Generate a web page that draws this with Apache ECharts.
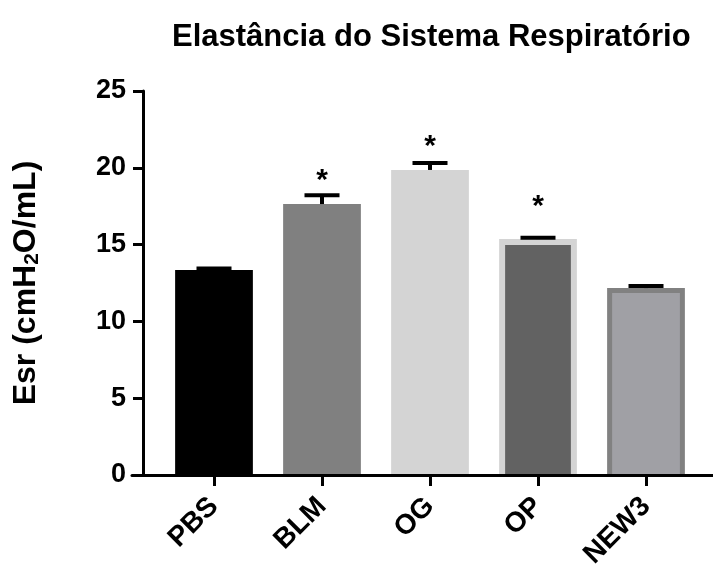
<!DOCTYPE html>
<html>
<head>
<meta charset="utf-8">
<script src="https://cdn.jsdelivr.net/npm/echarts@6/dist/echarts.min.js"></script>
<style>
  html, body { margin: 0; padding: 0; background: #ffffff; }
  #chart { width: 713px; height: 566px; }
</style>
</head>
<body>
<div id="chart"></div>
<script>
// Respiratory system elastance per group (mean ± SEM)
const groups = ['PBS', 'BLM', 'OG', 'OP', 'NEW3'];
const meanEsr = [13.35, 17.64, 19.86, 15.36, 12.17];
const semEsr = [0.10, 0.57, 0.45, 0.08, 0.13];
// groups flagged as significantly different, and where their asterisk sits (Esr units)
const significant = [false, true, true, true, false];
const starLevel = [null, 19.15, 21.35, 17.45, null];
// value axis ticks
const yTicks = [0, 5, 10, 15, 20, 25];

const FONT = 'Liberation Sans, Arial, Helvetica, sans-serif';

// bar appearance per group: outer colour, inner fill and inset width of the frame
const barLook = [
  { edge: '#000000', fill: '#000000', inset: 0 },
  { edge: '#808080', fill: '#808080', inset: 0 },
  { edge: '#d4d4d4', fill: '#d4d4d4', inset: 0 },
  { edge: '#d4d4d4', fill: '#626262', inset: 6 },
  { edge: '#818181', fill: '#a0a0a5', inset: 5 }
];

function renderBar(params, api) {
  const i = api.value(0);
  const v = api.value(1);
  const top = api.coord([i, v]);
  const base = api.coord([i, 0]);
  const w = api.size([1, 0])[0] * 0.72;
  const x0 = top[0] - w / 2;
  const h = base[1] - top[1];
  const look = barLook[params.dataIndex];
  const children = [{
    type: 'rect',
    shape: { x: x0, y: top[1], width: w, height: h },
    style: { fill: look.edge }
  }];
  if (look.inset > 0) {
    children.push({
      type: 'rect',
      shape: { x: x0 + look.inset, y: top[1] + look.inset, width: w - 2 * look.inset, height: h - look.inset },
      style: { fill: look.fill }
    });
  }
  return { type: 'group', children: children };
}

function renderErrorBar(params, api) {
  const i = api.value(0);
  const m = api.value(1);
  const s = api.value(2);
  const p0 = api.coord([i, m]);
  const p1 = api.coord([i, m + s]);
  const capHalf = 17.5;
  const line = { stroke: '#000000', lineWidth: 4 };
  const children = [
    { type: 'line', shape: { x1: p0[0], y1: p0[1], x2: p1[0], y2: p1[1] }, style: line },
    { type: 'line', shape: { x1: p1[0] - capHalf, y1: p1[1], x2: p1[0] + capHalf, y2: p1[1] }, style: line }
  ];
  const idx = params.dataIndex;
  if (significant[idx]) {
    const ps = api.coord([i, starLevel[idx]]);
    children.push({
      type: 'text',
      x: ps[0], y: ps[1],
      style: {
        text: '*', fill: '#000000',
        font: 'bold 30px ' + FONT,
        align: 'center', verticalAlign: 'middle',
        textAlign: 'center', textVerticalAlign: 'middle'
      }
    });
  }
  return { type: 'group', children: children };
}

const chart = echarts.init(document.getElementById('chart'), null, { renderer: 'canvas' });

chart.setOption({
  backgroundColor: '#ffffff',
  animation: false,
  title: {
    text: 'Elastância do Sistema Respiratório',
    left: 167,
    top: 17,
    textStyle: { fontFamily: FONT, fontSize: 31, fontWeight: 'bold', color: '#000000' }
  },
  grid: [
    { left: 160, right: 13, top: 91, bottom: 91, containLabel: false, outerBoundsMode: 'none' },
    { left: 132, right: 0, top: 91, bottom: 91, containLabel: false, outerBoundsMode: 'none' }
  ],
  xAxis: [
    {
      gridIndex: 0,
      type: 'category',
      data: groups,
      axisLine: { show: false },
      axisTick: { show: true, alignWithLabel: true, length: 11, lineStyle: { color: '#000000', width: 3 } },
      axisLabel: {
        interval: 0, rotate: 45, margin: 27,
        fontFamily: FONT, fontSize: 28, fontWeight: 'bold', color: '#000000'
      },
      splitLine: { show: false }
    },
    {
      gridIndex: 1,
      type: 'value',
      min: 0, max: 1,
      z: 10,
      axisLine: { show: true, lineStyle: { color: '#000000', width: 3 } },
      axisTick: { show: false },
      axisLabel: { show: false },
      splitLine: { show: false }
    }
  ],
  yAxis: [
    {
      gridIndex: 0,
      type: 'value',
      min: yTicks[0],
      max: yTicks[yTicks.length - 1],
      interval: yTicks[1] - yTicks[0],
      offset: 17,
      axisLine: { show: true, lineStyle: { color: '#000000', width: 3 } },
      axisTick: { show: true, length: 10, lineStyle: { color: '#000000', width: 3 } },
      axisLabel: { margin: 17, fontFamily: FONT, fontSize: 27, fontWeight: 'bold', color: '#000000' },
      splitLine: { show: false },
      name: '{t|Esr (cmH}{s|2}{t|O/mL)}',
      nameLocation: 'middle',
      nameRotate: 90,
      nameGap: 100,
      nameTextStyle: {
        rich: {
          t: { fontFamily: FONT, fontSize: 32, fontWeight: 'bold', color: '#000000' },
          s: { fontFamily: FONT, fontSize: 21, fontWeight: 'bold', color: '#000000', verticalAlign: 'bottom', padding: [12, 0, 0, 0] }
        }
      }
    },
    {
      gridIndex: 1,
      type: 'value',
      show: false,
      min: 0, max: 1
    }
  ],
  series: [
    {
      type: 'custom',
      name: 'Esr',
      xAxisIndex: 0, yAxisIndex: 0,
      renderItem: renderBar,
      encode: { x: 0, y: 1 },
      data: groups.map((g, i) => [i, meanEsr[i]]),
      z: 2
    },
    {
      type: 'custom',
      name: 'SEM',
      xAxisIndex: 0, yAxisIndex: 0,
      renderItem: renderErrorBar,
      encode: { x: 0, y: [1, 2] },
      data: groups.map((g, i) => [i, meanEsr[i], semEsr[i]]),
      z: 3
    }
  ]
});
</script>
</body>
</html>
